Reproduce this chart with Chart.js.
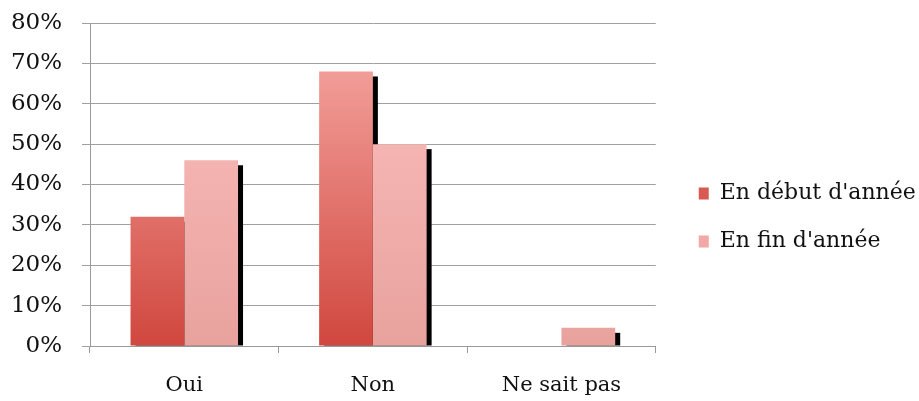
<!DOCTYPE html>
<html>
<head>
<meta charset="utf-8">
<script src="https://cdn.jsdelivr.net/npm/chart.js@4"></script>
<style>
    html, body { margin: 0; padding: 0; background: #fff; }
    #wrap { width: 919px; height: 401px; }
</style>
</head>
<body>
<div id="wrap"><canvas id="reponses-chart"></canvas></div>
<script>
'use strict';

const categories = ['Oui', 'Non', 'Ne sait pas'];
const seriesLabels = ['En début d\'année', 'En fin d\'année'];
const debutAnnee = [32, 68, 0];
const finAnnee = [46, 50, 4.5];
const yTicks = [0, 10, 20, 30, 40, 50, 60, 70, 80];

const FONT = '"DejaVu Serif", serif';

// vertical gradient over the plot area, like the Excel fill
function barGradient(ctx, top, bottom) {
    let chart = ctx.chart;
    let area = chart.chartArea;
    if (!area) {
        return bottom;
    }
    let g = chart.ctx.createLinearGradient(0, area.top, 0, area.bottom);
    g.addColorStop(0, top);
    g.addColorStop(1, bottom);
    return g;
}

// black drop shadow behind every bar, drawn before the bars
const barShadow = {
    id: 'barShadow',
    beforeDatasetsDraw: function (chart) {
        let c = chart.ctx;
        let area = chart.chartArea;
        c.save();
        c.beginPath();
        c.rect(area.left, area.top, area.right - area.left, area.bottom - area.top);
        c.clip();
        c.fillStyle = '#000';
        chart.data.datasets.forEach((ds, i) => {
            chart.getDatasetMeta(i).data.forEach(bar => {
                let p = bar.getProps(['x', 'y', 'base', 'width'], true);
                let h = p.base - p.y - 5;
                if (h > 0) {
                    c.fillRect(p.x - p.width / 2 + 5, p.y + 5, p.width, h);
                }
            });
        });
        c.restore();
    },
};

// push the legend away from the plot and let it use the right edge
const legendGap = {
    id: 'legendGap',
    afterLayout: function (chart) {
        let lg = chart.legend;
        lg.left += 17;
        lg.right = chart.width;
        lg.width = lg.right - lg.left;
    },
};

let ctx = document.getElementById('reponses-chart').getContext('2d');

window.reponsesChart = new Chart(ctx, {
    type: 'bar',
    data: {
        labels: categories,
        datasets: [
            {
                label: seriesLabels[0],
                data: debutAnnee,
                backgroundColor: c => barGradient(c, '#f8aca8', '#d0473e'),
            },
            {
                label: seriesLabels[1],
                data: finAnnee,
                backgroundColor: c => barGradient(c, '#fdc0bf', '#e8a29e'),
            }],
    },
    plugins: [barShadow, legendGap],
    options: {
        responsive: true,
        maintainAspectRatio: false,
        animation: false,
        layout: {
            padding: { top: 0, right: 46, bottom: 0, left: 4 },
        },
        datasets: {
            bar: {
                categoryPercentage: 0.57,
                barPercentage: 1,
                borderWidth: 0,
            },
        },
        plugins: {
            legend: {
                position: 'right',
                align: 'center',
                title: {
                    display: true,
                    text: ' ',
                    font: { size: 1 },
                    padding: { top: 33, bottom: 0 },
                },
                labels: {
                    color: '#111',
                    font: { family: FONT, size: 22 },
                    boxWidth: 10,
                    boxHeight: 12,
                    padding: 26,
                    generateLabels: function (chart) {
                        let colors = ['#d85a52', '#f2a8a6'];
                        return chart.data.datasets.map((ds, i) => ({
                            text: ds.label,
                            fillStyle: colors[i],
                            strokeStyle: colors[i],
                            fontColor: '#111',
                            lineWidth: 0,
                            datasetIndex: i,
                        }));
                    },
                },
            },
            tooltip: { enabled: false },
        },
        scales: {
            x: {
                afterFit: function (scale) {
                    scale.height = 55;
                },
                grid: {
                    display: true,
                    drawOnChartArea: false,
                    drawTicks: true,
                    tickLength: 7,
                    color: '#999',
                    offset: true,
                },
                border: { color: '#999', width: 1 },
                ticks: {
                    color: '#111',
                    font: { family: FONT, size: 21 },
                    padding: 20,
                },
            },
            y: {
                min: 0,
                max: 80,
                afterFit: function (scale) {
                    scale.width = 86;
                    scale.paddingTop = 23;
                },
                afterBuildTicks: function (axis) {
                    axis.ticks = yTicks.map(v => ({ value: v }));
                },
                grid: {
                    color: '#a0a0a0',
                    tickLength: 8,
                },
                border: { color: '#999', width: 1 },
                ticks: {
                    color: '#111',
                    font: { family: FONT, size: 23 },
                    padding: 20,
                    callback: v => v + '%',
                },
            },
        },
    },
});
</script>
</body>
</html>
